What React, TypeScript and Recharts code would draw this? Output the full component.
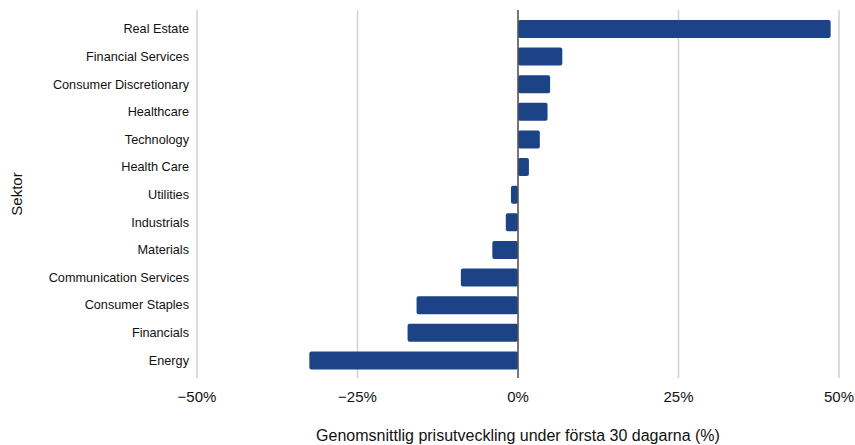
import { BarChart, Bar, XAxis, YAxis, CartesianGrid, ReferenceLine } from "recharts"

const sectors = [
  "Real Estate",
  "Financial Services",
  "Consumer Discretionary",
  "Healthcare",
  "Technology",
  "Health Care",
  "Utilities",
  "Industrials",
  "Materials",
  "Communication Services",
  "Consumer Staples",
  "Financials",
  "Energy",
]

const avgChange = [48.7, 6.9, 5.0, 4.6, 3.4, 1.7, -1.1, -1.9, -4.0, -8.9, -15.8, -17.2, -32.5]

const xTicks = [-50, -25, 0, 25, 50]

const data = sectors.map((sector, i) => ({ sector, value: avgChange[i] }))

const font = "'Liberation Sans', Arial, sans-serif"

const fmt = (v: number) => (v < 0 ? `\u2212${Math.abs(v)}%` : `${v}%`)

export default function App() {
  return (
    <div style={{ position: "absolute", left: 0, top: 0, fontFamily: font }}>
      <BarChart
        width={855}
        height={445}
        data={data}
        layout="vertical"
        margin={{ top: 10, right: 16, left: 0, bottom: 37 }}
      >
        <CartesianGrid horizontal={false} stroke="#d0d0d0" strokeWidth={1.5} />
        <XAxis
          type="number"
          domain={[-50, 50]}
          ticks={xTicks}
          tickFormatter={fmt}
          axisLine={false}
          tickLine={false}
          tickMargin={7}
          height={30}
          tick={{ fontSize: 15, fill: "#111", fontFamily: font }}
          label={{
            value: "Genomsnittlig prisutveckling under första 30 dagarna (%)",
            position: "bottom",
            offset: 22,
            style: { fontSize: 16, fill: "#111", fontFamily: font },
          }}
        />
        <YAxis
          type="category"
          dataKey="sector"
          width={197}
          axisLine={false}
          tickLine={false}
          interval={0}
          padding={{ top: 5, bottom: 4 }}
          tick={{ fontSize: 12.7, fill: "#111", fontFamily: font }}
          label={{
            value: "Sektor",
            angle: -90,
            position: "insideLeft",
            offset: 17,
            style: { fontSize: 15, fill: "#111", fontFamily: font, textAnchor: "middle" },
          }}
        />
        <Bar dataKey="value" fill="#1b4386" barSize={18} radius={2} isAnimationActive={false} />
        <ReferenceLine x={0} stroke="#555" strokeWidth={1.5} />
      </BarChart>
    </div>
  )
}
